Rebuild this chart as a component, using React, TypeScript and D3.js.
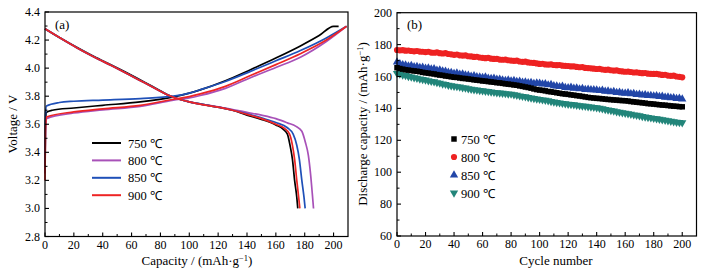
import React from 'react';
import * as d3 from 'd3';

// ---------- shared ----------
const temps = ['750 ℃', '800 ℃', '850 ℃', '900 ℃'];
const voltColors = ['#000000', '#a851b8', '#1f50b8', '#ee2424'];
const cycColors = ['#000000', '#ee2222', '#2246a8', '#22857a'];

// ---------- panel (a): charge / discharge curves [capacity, voltage] ----------
const charge750: [number, number][] = [[0,3.25],[0.3,3.6],[1,3.685],[5,3.70],[20,3.716],[40,3.735],[66,3.759],[89,3.795],[100,3.822],[107.6,3.845],[125,3.91],[142.4,3.989],[160,4.072],[177,4.158],[190,4.232],[200,4.298],[203.5,4.298]];
const charge800: [number, number][] = [[0,3.25],[0.3,3.55],[1,3.64],[20,3.68],[40,3.703],[66,3.728],[89,3.772],[100,3.788],[107.6,3.805],[125,3.856],[142.4,3.932],[160,4.005],[177,4.078],[195,4.19],[209,4.298]];
const charge850: [number, number][] = [[0,3.3],[0.3,3.66],[1,3.73],[10,3.755],[20,3.764],[40,3.772],[66,3.783],[89,3.80],[100,3.822],[107.6,3.846],[125,3.905],[142.4,3.977],[160,4.052],[177,4.125],[195,4.215],[209,4.298]];
const charge900: [number, number][] = [[0,3.2],[0.3,3.55],[1,3.652],[20,3.688],[40,3.71],[66,3.735],[89,3.778],[100,3.797],[107.6,3.816],[125,3.87],[142.4,3.947],[160,4.025],[177,4.103],[195,4.20],[209,4.298]];

const discharge750: [number, number][] = [[0,4.28],[10,4.218],[22,4.148],[34,4.082],[46,4.022],[58,3.96],[69,3.90],[78,3.849],[85,3.81],[90,3.789],[100,3.76],[110,3.74],[121,3.72],[130,3.70],[140,3.665],[150,3.635],[160,3.595],[165,3.565],[168,3.53],[170,3.44],[171.5,3.35],[173,3.2],[174.5,3.08],[175.2,3.0]];
const discharge800: [number, number][] = [[0,4.28],[10,4.218],[22,4.146],[34,4.08],[46,4.018],[58,3.955],[69,3.895],[78,3.846],[85,3.808],[90,3.789],[100,3.76],[110,3.74],[121,3.722],[130,3.705],[140,3.685],[150,3.665],[160,3.64],[168,3.61],[174,3.585],[178,3.55],[180.5,3.47],[182.5,3.38],[184,3.25],[185.3,3.1],[186.1,3.0]];
const discharge850: [number, number][] = [[0,4.28],[10,4.218],[22,4.146],[34,4.08],[46,4.018],[58,3.955],[69,3.895],[78,3.846],[85,3.808],[90,3.789],[100,3.76],[110,3.74],[121,3.72],[130,3.70],[140,3.675],[150,3.645],[160,3.612],[168,3.575],[172,3.53],[174.5,3.45],[176.3,3.35],[178,3.2],[179.5,3.08],[180.3,3.0]];
const discharge900: [number, number][] = [[0,4.28],[10,4.218],[22,4.146],[34,4.08],[46,4.018],[58,3.955],[69,3.895],[78,3.846],[85,3.808],[90,3.789],[100,3.76],[110,3.738],[121,3.72],[130,3.70],[140,3.67],[150,3.64],[160,3.60],[166,3.57],[169.5,3.53],[171.5,3.45],[173,3.35],[174.5,3.2],[175.8,3.08],[176.6,3.0]];

const chargeCurves = [charge750, charge800, charge850, charge900];
const dischargeCurves = [discharge750, discharge800, discharge850, discharge900];

const capTicks = [0, 20, 40, 60, 80, 100, 120, 140, 160, 180, 200];
const voltTicks = [2.8, 3.0, 3.2, 3.4, 3.6, 3.8, 4.0, 4.2, 4.4];

// ---------- panel (b): discharge capacity every 2 cycles ----------
const cycles = d3.range(0, 201, 2);
const cap750 = [
  165.5,165.0,164.6,164.2,164.0,163.7,163.5,163.3,163.0,162.6,
  162.3,162.1,161.8,161.6,161.2,160.9,160.7,160.3,160.1,159.8,
  159.5,159.4,159.1,158.8,158.7,158.4,158.2,157.9,157.7,157.5,
  157.2,157.1,156.8,156.6,156.4,156.1,156.0,155.7,155.4,155.2,
  155.0,154.7,154.5,154.1,153.8,153.4,153.1,152.7,152.2,151.8,
  151.5,151.3,151.0,150.6,150.4,150.1,149.8,149.5,149.2,149.0,
  148.8,148.5,148.3,148.0,147.8,147.5,147.2,146.9,146.7,146.5,
  146.3,146.2,146.0,145.8,145.6,145.5,145.3,145.2,145.0,144.9,
  144.8,144.6,144.3,144.1,143.9,143.7,143.5,143.3,143.0,142.9,
  142.7,142.5,142.3,142.1,142.0,141.8,141.6,141.4,141.3,141.1,
  141.0];
const cap800 = [
  176.6,176.4,176.5,176.2,176.3,176.0,175.8,176.0,175.6,175.5,
  175.3,175.5,175.0,174.9,175.1,174.6,174.4,174.6,174.1,173.9,
  173.6,173.8,173.3,173.1,173.2,172.7,172.6,172.3,172.4,171.9,
  171.7,171.5,171.7,171.2,171.0,171.1,170.6,170.5,170.6,170.2,
  170.0,169.8,169.9,169.4,169.2,169.3,168.8,168.6,168.5,168.2,
  167.9,168.0,167.6,167.5,167.6,167.2,167.1,167.2,166.8,166.7,
  166.6,166.3,166.4,166.0,165.8,165.9,165.4,165.3,165.1,164.9,
  164.7,164.8,164.4,164.2,164.3,163.9,163.7,163.8,163.4,163.2,
  163.0,163.1,162.8,162.5,162.6,162.3,162.1,162.2,161.8,161.7,
  161.6,161.7,161.3,161.0,161.1,160.6,160.4,160.5,160.0,159.8,
  159.5];
const cap850 = [
  169.0,167.9,167.4,167.2,166.5,166.8,166.1,166.3,165.6,165.7,
  165.1,165.3,164.6,164.8,163.9,164.1,163.4,163.2,162.6,162.5,
  161.9,162.2,161.4,161.6,160.9,160.8,160.2,160.5,159.8,159.7,
  159.4,159.6,158.9,158.7,158.9,158.2,158.3,157.8,157.5,157.7,
  157.2,157.4,156.8,157.0,156.3,156.5,156.0,156.2,155.6,155.9,
  155.7,155.2,155.4,154.7,154.9,154.2,154.0,153.6,153.8,153.1,
  152.9,153.2,152.6,152.8,152.2,152.4,151.8,152.0,151.6,151.7,
  151.5,151.1,151.3,150.7,150.9,150.3,150.5,149.9,150.1,149.6,
  149.5,149.7,149.1,149.3,148.7,148.9,148.3,148.5,148.0,148.1,
  147.8,147.9,147.4,147.6,147.0,147.1,146.6,146.7,146.2,146.3,
  145.9];
const cap900 = [
  162.0,161.6,161.0,160.7,160.1,159.8,159.3,158.9,158.5,158.2,
  157.8,157.4,157.0,156.7,156.2,155.9,155.4,155.1,154.6,154.3,
  154.0,153.7,153.4,153.0,152.8,152.4,152.1,151.8,151.6,151.3,
  151.1,150.8,150.6,150.3,150.1,149.9,149.7,149.5,149.3,149.1,
  149.0,148.6,148.3,147.9,147.6,147.3,146.9,146.6,146.3,146.0,
  145.7,145.4,145.1,144.8,144.4,144.1,143.8,143.5,143.2,142.9,
  142.7,142.5,142.3,142.0,141.8,141.6,141.4,141.1,140.9,140.7,
  140.5,140.1,139.8,139.4,139.1,138.7,138.4,138.0,137.6,137.3,
  137.0,136.7,136.4,136.0,135.7,135.4,135.0,134.7,134.4,134.1,
  133.8,133.5,133.2,132.9,132.6,132.3,132.0,131.7,131.4,131.2,
  131.0];
const cycleSeries = [cap750, cap800, cap850, cap900];
const markerTypes = [d3.symbolSquare, d3.symbolCircle, d3.symbolTriangle, d3.symbolTriangle];
const cycleTicks = [0, 20, 40, 60, 80, 100, 120, 140, 160, 180, 200];
const capYTicks = [60, 80, 100, 120, 140, 160, 180, 200];

const FONT = '"Liberation Serif", "Times New Roman", serif';

function Frame({ x, y, xTicks, yTicks, xMinor, yMinor, yFmt }: any) {
  const [x0, x1] = x.range();
  const [y0, y1] = y.range();
  return (
    <g>
      <rect x={x0} y={y1} width={x1 - x0} height={y0 - y1} fill="none" stroke="#000" strokeWidth={1.2} />
      {xTicks.map((t: number) => (
        <g key={'xt' + t}>
          <line x1={x(t)} x2={x(t)} y1={y0} y2={y0 - 4} stroke="#000" strokeWidth={1.1} />
          <text x={x(t)} y={y0 + 12} textAnchor="middle" fontSize={12} fontFamily={FONT}>{t}</text>
        </g>
      ))}
      {xMinor.map((t: number) => (
        <line key={'xm' + t} x1={x(t)} x2={x(t)} y1={y0} y2={y0 - 2.5} stroke="#000" strokeWidth={1} />
      ))}
      {yTicks.map((t: number) => (
        <g key={'yt' + t}>
          <line x1={x0} x2={x0 + 4} y1={y(t)} y2={y(t)} stroke="#000" strokeWidth={1.1} />
          <text x={x0 - 5} y={y(t) + 4} textAnchor="end" fontSize={12} fontFamily={FONT}>{yFmt(t)}</text>
        </g>
      ))}
      {yMinor.map((t: number) => (
        <line key={'ym' + t} x1={x0} x2={x0 + 2.5} y1={y(t)} y2={y(t)} stroke="#000" strokeWidth={1} />
      ))}
    </g>
  );
}

export default function App() {
  // panel a
  const xa = d3.scaleLinear().domain([0, 210]).range([45, 348]);
  const ya = d3.scaleLinear().domain([2.8, 4.4]).range([236.5, 12]);
  const lineA = d3.line<[number, number]>().x(d => xa(d[0])).y(d => ya(d[1])).curve(d3.curveMonotoneX);

  // panel b
  const xb = d3.scaleLinear().domain([0, 210]).range([397, 696.5]);
  const yb = d3.scaleLinear().domain([60, 200]).range([236, 12.7]);

  const sym = (i: number) => d3.symbol().type(markerTypes[i]).size(i === 1 ? 30 : i === 0 ? 30 : 30)();

  const drawOrderB = [1, 2, 3, 0];

  return (
    <svg width={708} height={270} style={{ position: 'absolute', left: 0, top: 0, background: '#fff' }}>
      <rect x={0} y={0} width={708} height={270} fill="#fff" />
      {/* ---------- panel a ---------- */}
      {[0, 1, 2, 3].map(i => (
        <g key={'cur' + i}>
          <path d={lineA(chargeCurves[i]) || ''} fill="none" stroke={voltColors[i]} strokeWidth={1.7} />
          <path d={lineA(dischargeCurves[i]) || ''} fill="none" stroke={voltColors[i]} strokeWidth={1.7} />
        </g>
      ))}
      <Frame x={xa} y={ya} xTicks={capTicks} yTicks={voltTicks}
        xMinor={d3.range(10, 210, 20)} yMinor={d3.range(2.9, 4.4, 0.2)} yFmt={(t: number) => t.toFixed(1)} />
      <text x={55} y={29} fontSize={13} fontFamily={FONT}>(a)</text>
      {temps.map((t, i) => (
        <g key={'lga' + i}>
          <line x1={92} x2={121} y1={143 + i * 17.4} y2={143 + i * 17.4} stroke={voltColors[i]} strokeWidth={2} />
          <text x={128} y={147.5 + i * 17.4} fontSize={12.5} fontFamily={FONT}>{t}</text>
        </g>
      ))}
      <text x={197} y={265} textAnchor="middle" fontSize={13} fontFamily={FONT}>
        Capacity / (mAh·g<tspan dy={-4} fontSize={8.5}>−1</tspan><tspan dy={4}>)</tspan>
      </text>
      <text transform="translate(17,124) rotate(-90)" textAnchor="middle" fontSize={13} fontFamily={FONT}>Voltage / V</text>

      {/* ---------- panel b ---------- */}
      {drawOrderB.map(i => (
        <g key={'ser' + i} fill={cycColors[i]}>
          {cycles.map((c, k) => (
            <path key={k} d={sym(i)}
              transform={`translate(${xb(c)},${yb(cycleSeries[i][k])})${i === 3 ? ' rotate(180)' : ''}`} />
          ))}
        </g>
      ))}
      <Frame x={xb} y={yb} xTicks={cycleTicks} yTicks={capYTicks}
        xMinor={d3.range(10, 210, 20)} yMinor={d3.range(70, 200, 20)} yFmt={(t: number) => String(t)} />
      <text x={407} y={29} fontSize={13} fontFamily={FONT}>(b)</text>
      {temps.map((t, i) => (
        <g key={'lgb' + i}>
          <path d={sym(i)} fill={cycColors[i]}
            transform={`translate(454,${139 + i * 18})${i === 3 ? ' rotate(180)' : ''}`} />
          <text x={461} y={143.5 + i * 18} fontSize={12.5} fontFamily={FONT}>{t}</text>
        </g>
      ))}
      <text x={556} y={265} textAnchor="middle" fontSize={13} fontFamily={FONT}>Cycle number</text>
      <text transform="translate(367,124) rotate(-90)" textAnchor="middle" fontSize={13} fontFamily={FONT}>
        Discharge capacity / (mAh·g<tspan dy={-4} fontSize={8.5}>−1</tspan><tspan dy={4}>)</tspan>
      </text>
    </svg>
  );
}
